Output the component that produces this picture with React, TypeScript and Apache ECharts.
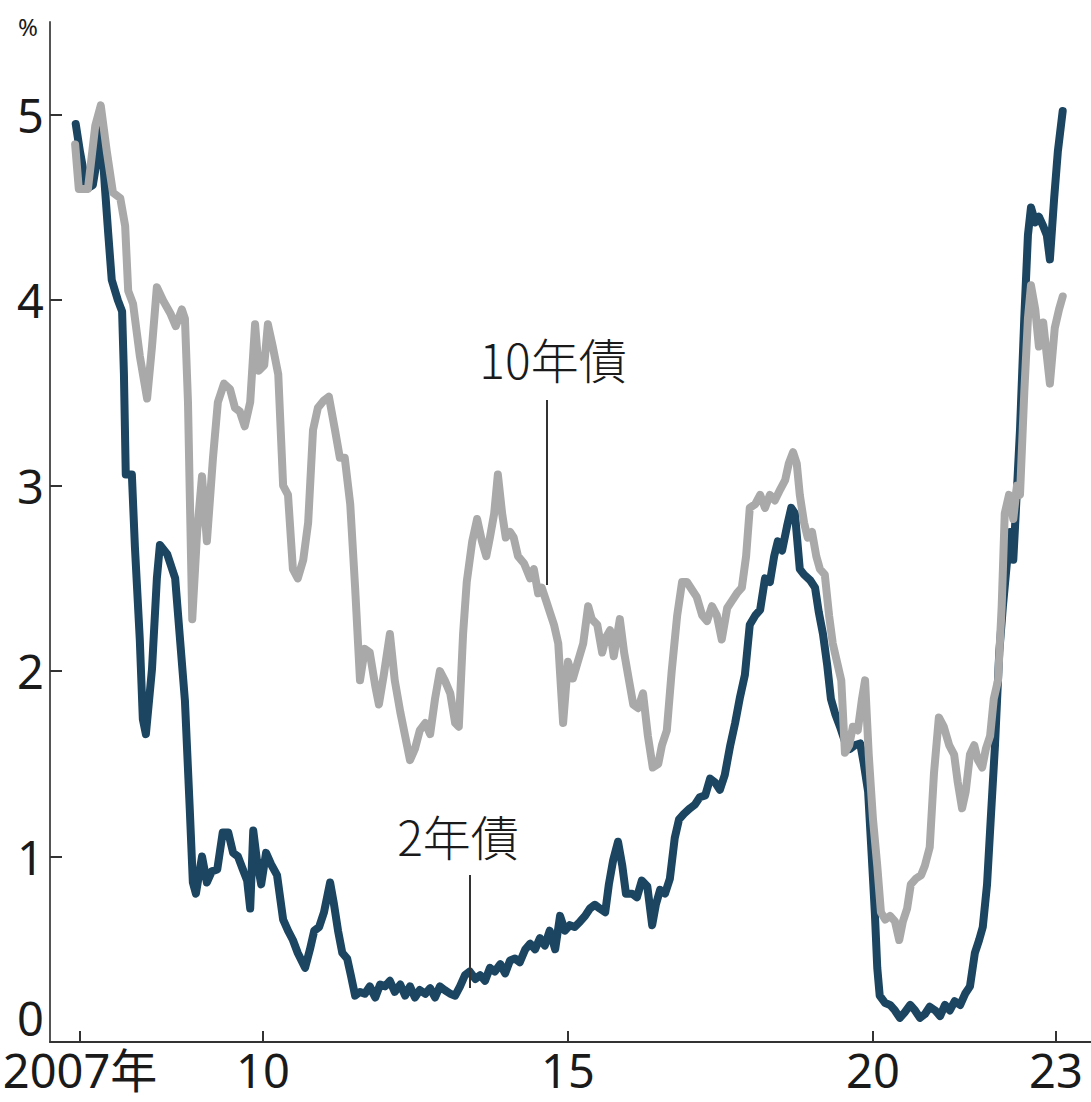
import React, { useEffect, useRef } from "react";
import * as echarts from "echarts";

// 2-year Treasury yield (%), decimal years
const years2y = [
  2006.93, 2007.0, 2007.11, 2007.21, 2007.3, 2007.34, 2007.41, 2007.46, 2007.52, 2007.62, 2007.69, 2007.72,
  2007.75, 2007.85, 2007.9, 2007.98, 2008.03, 2008.08, 2008.18, 2008.26, 2008.31, 2008.43, 2008.56, 2008.64,
  2008.72, 2008.8, 2008.85, 2008.9, 2009.0, 2009.08, 2009.16, 2009.25, 2009.34, 2009.43, 2009.51, 2009.59,
  2009.67, 2009.74, 2009.79, 2009.84, 2009.9, 2009.97, 2010.05, 2010.13, 2010.23, 2010.33, 2010.41, 2010.49,
  2010.57, 2010.69, 2010.77, 2010.84, 2010.92, 2011.0, 2011.1, 2011.16, 2011.23, 2011.3, 2011.38, 2011.44,
  2011.51, 2011.59, 2011.67, 2011.75, 2011.84, 2011.92, 2012.0, 2012.08, 2012.16, 2012.25, 2012.33, 2012.41,
  2012.49, 2012.57, 2012.66, 2012.74, 2012.82, 2012.9, 2012.98, 2013.07, 2013.15, 2013.23, 2013.31, 2013.39,
  2013.48, 2013.56, 2013.64, 2013.72, 2013.8, 2013.89, 2013.97, 2014.05, 2014.13, 2014.21, 2014.3, 2014.38,
  2014.46, 2014.54, 2014.62, 2014.7, 2014.79, 2014.87, 2014.95, 2015.03, 2015.11, 2015.2, 2015.28, 2015.36,
  2015.44, 2015.52, 2015.61, 2015.67, 2015.74, 2015.82, 2015.89, 2015.95, 2016.05, 2016.13, 2016.21, 2016.3,
  2016.38, 2016.44, 2016.51, 2016.59, 2016.67, 2016.75, 2016.82, 2016.9, 2017.0, 2017.08, 2017.16, 2017.25,
  2017.33, 2017.41, 2017.49, 2017.57, 2017.66, 2017.74, 2017.82, 2017.9, 2017.98, 2018.07, 2018.15, 2018.23,
  2018.31, 2018.38, 2018.44, 2018.51, 2018.59, 2018.66, 2018.72, 2018.8, 2018.87, 2018.97, 2019.05, 2019.11,
  2019.18, 2019.25, 2019.31, 2019.38, 2019.46, 2019.54, 2019.62, 2019.7, 2019.79, 2019.85, 2019.92, 2019.98,
  2020.03, 2020.07, 2020.11, 2020.2, 2020.28, 2020.36, 2020.44, 2020.52, 2020.61, 2020.69, 2020.77, 2020.85,
  2020.93, 2021.02, 2021.1, 2021.18, 2021.26, 2021.34, 2021.43, 2021.51, 2021.59, 2021.67, 2021.74, 2021.8,
  2021.87, 2021.93, 2022.0, 2022.07, 2022.13, 2022.2, 2022.25, 2022.3, 2022.34, 2022.41, 2022.48, 2022.54,
  2022.59, 2022.66, 2022.72, 2022.79, 2022.85, 2022.9, 2022.97, 2023.03, 2023.11,
];
const yield2y = [
  4.95, 4.8, 4.6, 4.62, 4.8, 4.95, 4.6, 4.37, 4.11, 4.0, 3.94, 3.6,
  3.06, 3.06, 2.67, 2.17, 1.74, 1.66, 2.01, 2.5, 2.68, 2.63, 2.5, 2.17,
  1.84, 1.25, 0.86, 0.8, 1.0, 0.86, 0.92, 0.93, 1.13, 1.13, 1.02, 1.0,
  0.93, 0.87, 0.72, 1.14, 0.98, 0.85, 1.02, 0.96, 0.9, 0.66, 0.6, 0.55,
  0.48, 0.4, 0.5, 0.6, 0.62, 0.7, 0.86, 0.75, 0.6, 0.48, 0.45, 0.36,
  0.25, 0.27, 0.26, 0.3, 0.24, 0.31, 0.3, 0.33, 0.27, 0.31, 0.25, 0.3,
  0.24, 0.28, 0.26, 0.29, 0.24, 0.3, 0.28, 0.26, 0.25, 0.3, 0.36, 0.38,
  0.34, 0.36, 0.33, 0.4, 0.38, 0.42, 0.37, 0.44, 0.45, 0.43, 0.5, 0.53,
  0.5, 0.56, 0.52, 0.6, 0.5, 0.68, 0.6, 0.63, 0.62, 0.65, 0.68, 0.72,
  0.74, 0.72, 0.7, 0.85, 0.98, 1.08, 0.95, 0.8, 0.8, 0.78, 0.87, 0.84,
  0.63, 0.74, 0.82, 0.8, 0.88, 1.1, 1.2, 1.23, 1.26, 1.28, 1.32, 1.33,
  1.42, 1.4, 1.36, 1.44, 1.6, 1.72, 1.86, 1.98, 2.25, 2.3, 2.33, 2.5,
  2.48, 2.62, 2.7, 2.65, 2.78, 2.88, 2.85, 2.55, 2.52, 2.49, 2.45, 2.32,
  2.2, 2.03, 1.85, 1.77, 1.7, 1.62, 1.58, 1.6, 1.61, 1.5, 1.35, 1.0,
  0.7, 0.4, 0.25, 0.21, 0.2, 0.17, 0.13, 0.16, 0.2, 0.17, 0.13, 0.15,
  0.19, 0.17, 0.14, 0.2, 0.17, 0.22, 0.2, 0.26, 0.3, 0.48, 0.55, 0.62,
  0.85, 1.2, 1.6, 2.1, 2.35, 2.6, 2.75, 2.6, 2.85, 3.3, 3.9, 4.35,
  4.5, 4.42, 4.45, 4.4, 4.35, 4.22, 4.55, 4.8, 5.02,
];

// 10-year Treasury yield (%), decimal years
const years10y = [
  2006.92, 2006.98, 2007.13, 2007.25, 2007.34, 2007.44, 2007.54, 2007.66, 2007.74, 2007.79, 2007.87, 2007.98,
  2008.1, 2008.18, 2008.26, 2008.36, 2008.48, 2008.57, 2008.67, 2008.72, 2008.77, 2008.84, 2008.92, 2009.0,
  2009.08, 2009.18, 2009.26, 2009.36, 2009.46, 2009.54, 2009.62, 2009.7, 2009.79, 2009.87, 2009.93, 2010.02,
  2010.08, 2010.16, 2010.25, 2010.33, 2010.41, 2010.49, 2010.57, 2010.66, 2010.74, 2010.82, 2010.9, 2011.0,
  2011.08, 2011.18, 2011.26, 2011.34, 2011.43, 2011.51, 2011.59, 2011.67, 2011.75, 2011.84, 2011.9, 2011.98,
  2012.08, 2012.16, 2012.25, 2012.33, 2012.41, 2012.49, 2012.57, 2012.66, 2012.74, 2012.82, 2012.9, 2012.98,
  2013.07, 2013.15, 2013.21, 2013.28, 2013.34, 2013.43, 2013.51, 2013.59, 2013.66, 2013.72, 2013.79, 2013.85,
  2013.92, 2013.98, 2014.05, 2014.11, 2014.18, 2014.28, 2014.38, 2014.44, 2014.51, 2014.57, 2014.64, 2014.7,
  2014.77, 2014.84, 2014.92, 2015.0, 2015.08, 2015.16, 2015.25, 2015.33, 2015.39, 2015.48, 2015.56, 2015.62,
  2015.69, 2015.75, 2015.85, 2015.92, 2016.0, 2016.07, 2016.15, 2016.23, 2016.31, 2016.39, 2016.48, 2016.54,
  2016.62, 2016.7, 2016.79, 2016.87, 2016.95, 2017.03, 2017.11, 2017.2, 2017.28, 2017.36, 2017.44, 2017.52,
  2017.61, 2017.69, 2017.77, 2017.85, 2017.92, 2017.98, 2018.07, 2018.15, 2018.23, 2018.31, 2018.39, 2018.48,
  2018.56, 2018.62, 2018.69, 2018.75, 2018.8, 2018.87, 2018.93, 2019.0, 2019.07, 2019.13, 2019.21, 2019.28,
  2019.34, 2019.41, 2019.48, 2019.54, 2019.61, 2019.67, 2019.75, 2019.82, 2019.87, 2019.93, 2020.0, 2020.07,
  2020.13, 2020.2, 2020.28, 2020.36, 2020.43, 2020.49, 2020.56, 2020.62, 2020.7, 2020.79, 2020.85, 2020.93,
  2021.0, 2021.08, 2021.16, 2021.25, 2021.33, 2021.39, 2021.46, 2021.52, 2021.59, 2021.66, 2021.72, 2021.79,
  2021.85, 2021.92, 2021.98, 2022.05, 2022.11, 2022.16, 2022.23, 2022.3, 2022.36, 2022.41, 2022.48, 2022.54,
  2022.59, 2022.66, 2022.72, 2022.79, 2022.85, 2022.9, 2022.98, 2023.05, 2023.11,
];
const yield10y = [
  4.84, 4.6, 4.6, 4.94, 5.05, 4.8, 4.58, 4.55, 4.4, 4.05, 3.98, 3.7,
  3.47, 3.75, 4.07, 4.0, 3.93, 3.86, 3.95, 3.9, 3.45, 2.28, 2.75, 3.05,
  2.7, 3.15, 3.45, 3.55, 3.52, 3.42, 3.4, 3.32, 3.45, 3.87, 3.62, 3.65,
  3.87, 3.75, 3.6, 3.0, 2.95, 2.55, 2.5, 2.6, 2.8, 3.3, 3.42, 3.46,
  3.48, 3.3, 3.15, 3.15, 2.9, 2.45, 1.95, 2.12, 2.1, 1.92, 1.82, 1.98,
  2.2, 1.95, 1.78, 1.65, 1.52, 1.58, 1.68, 1.72, 1.66, 1.85, 2.0, 1.95,
  1.88, 1.72, 1.7, 2.2, 2.48, 2.7, 2.82, 2.7, 2.62, 2.72, 2.85, 3.06,
  2.85, 2.72, 2.75, 2.72, 2.62, 2.58, 2.5, 2.55, 2.42, 2.45, 2.38, 2.32,
  2.25, 2.15, 1.72, 2.05, 1.96, 2.05, 2.15, 2.35, 2.28, 2.25, 2.1, 2.18,
  2.22, 2.08, 2.28, 2.1, 1.95, 1.82, 1.8, 1.88, 1.65, 1.48, 1.5, 1.6,
  1.68, 2.0, 2.3, 2.48, 2.48, 2.44, 2.4, 2.3, 2.27, 2.35, 2.3, 2.17,
  2.34, 2.38, 2.42, 2.45, 2.62, 2.88, 2.9, 2.95, 2.88, 2.95, 2.92, 2.98,
  3.03, 3.12, 3.18, 3.12, 2.95, 2.8, 2.72, 2.75, 2.62, 2.55, 2.52, 2.3,
  2.15, 2.05, 1.95, 1.56, 1.6, 1.7, 1.68, 1.85, 1.95, 1.55, 1.2, 0.95,
  0.7, 0.66, 0.68, 0.65, 0.55, 0.65, 0.72, 0.85, 0.88, 0.9, 0.95, 1.05,
  1.45, 1.75, 1.7, 1.6, 1.55, 1.4, 1.26, 1.35, 1.55, 1.6, 1.52, 1.48,
  1.58, 1.65, 1.85, 1.95, 2.35, 2.85, 2.95, 2.82, 3.0, 2.95, 3.5, 3.9,
  4.08, 3.95, 3.75, 3.88, 3.7, 3.55, 3.85, 3.95, 4.02,
];

const xTickYears = [2007, 2010, 2015, 2020, 2023];
const xTickLabels = ["2007年", "10", "15", "20", "23"];
const yTickValues = [0, 1, 2, 3, 4, 5];

const DARK = "#1b4560";
const GRAY = "#a9a9a9";
const FONT = "'Noto Sans', 'Noto Sans CJK JP', sans-serif";
const LABEL_SIZE = 47;

export default function App() {
  const ref = useRef<HTMLDivElement>(null);

  useEffect(() => {
    const chart = echarts.init(ref.current!, null, { renderer: "svg" });
    const pairs = (xs: number[], ys: number[]) => xs.map((x, i) => [x, ys[i]]);

    chart.setOption({
      animation: false,
      backgroundColor: "#ffffff",
      grid: {
        left: 50,
        right: 0,
        top: 22,
        bottom: 60,
        containLabel: false,
        outerBoundsMode: "none",
      },
      xAxis: {
        type: "value",
        min: 2006.508,
        max: 2023.574,
        splitLine: { show: false },
        axisLine: { show: true, lineStyle: { color: "#333", width: 2 } },
        axisTick: {
          show: true,
          inside: true,
          length: 11,
          customValues: xTickYears,
          lineStyle: { color: "#333", width: 2 },
        },
        axisLabel: {
          customValues: xTickYears,
          formatter: (v: number) => {
            const i = xTickYears.indexOf(Math.round(v));
            return i >= 0 ? xTickLabels[i] : "";
          },
          fontFamily: FONT,
          fontSize: LABEL_SIZE,
          lineHeight: 50,
          color: "#1a1a1a",
          margin: 3,
          hideOverlap: false,
        },
      },
      yAxis: {
        type: "value",
        min: 0,
        max: 5.5,
        splitLine: { show: false },
        axisLine: { show: true, lineStyle: { color: "#555", width: 2 } },
        axisTick: {
          show: true,
          inside: true,
          length: 12,
          customValues: yTickValues,
          lineStyle: { color: "#333", width: 2 },
        },
        axisLabel: {
          customValues: yTickValues,
          fontFamily: FONT,
          fontSize: LABEL_SIZE,
          lineHeight: 50,
          color: "#1a1a1a",
          margin: 6,
          formatter: (v: number) => (v === 0 ? "{z|0}" : String(v)),
          rich: {
            z: {
              fontFamily: FONT,
              fontSize: LABEL_SIZE,
              lineHeight: 40,
              color: "#1a1a1a",
              padding: [0, 0, 48, 0],
            },
          },
        },
      },
      series: [
        {
          name: "2年債",
          type: "line",
          data: pairs(years2y, yield2y),
          showSymbol: false,
          lineStyle: { color: DARK, width: 8, join: "round", cap: "round" },
          z: 2,
        },
        {
          name: "10年債",
          type: "line",
          data: pairs(years10y, yield10y),
          showSymbol: false,
          lineStyle: { color: GRAY, width: 8, join: "round", cap: "round" },
          z: 3,
        },
      ],
      graphic: [
        {
          type: "text",
          x: 28,
          y: 26,
          z: 10,
          style: {
            text: "%",
            font: `24px 'Noto Sans', sans-serif`,
            fill: "#1a1a1a",
            align: "center",
            verticalAlign: "middle",
          },
        },
        {
          type: "text",
          x: 553,
          y: 358,
          z: 10,
          style: {
            text: "10年債",
            font: `300 48px 'Noto Sans CJK JP', sans-serif`,
            fill: "#1a1a1a",
            align: "center",
            verticalAlign: "middle",
          },
        },
        {
          type: "line",
          z: 10,
          shape: { x1: 547, y1: 400, x2: 547, y2: 585 },
          style: { stroke: "#333", lineWidth: 2 },
        },
        {
          type: "text",
          x: 458,
          y: 835,
          z: 10,
          style: {
            text: "2年債",
            font: `300 48px 'Noto Sans CJK JP', sans-serif`,
            fill: "#1a1a1a",
            align: "center",
            verticalAlign: "middle",
          },
        },
        {
          type: "line",
          z: 10,
          shape: { x1: 470, y1: 875, x2: 470, y2: 988 },
          style: { stroke: "#333", lineWidth: 2 },
        },
      ],
    });

    return () => chart.dispose();
  }, []);

  return (
    <div
      ref={ref}
      style={{ position: "absolute", left: 0, top: 0, width: 1091, height: 1102 }}
    />
  );
}
